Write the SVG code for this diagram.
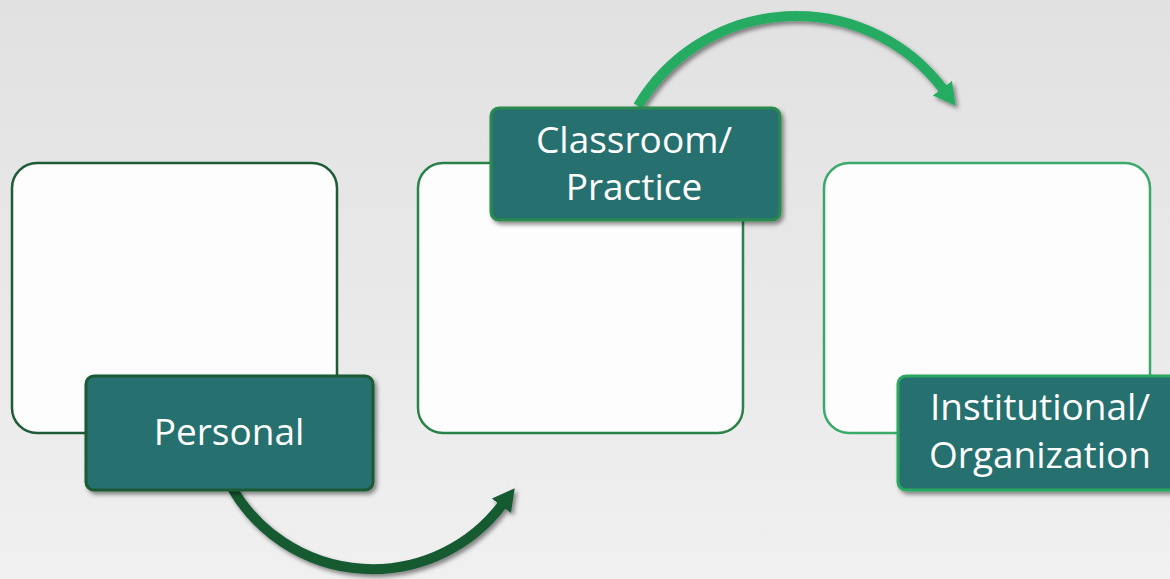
<svg xmlns="http://www.w3.org/2000/svg" width="1170" height="579" viewBox="0 0 1170 579">
<defs>
<linearGradient id="bg" x1="0" y1="0" x2="0" y2="1">
<stop offset="0" stop-color="#e1e1e1"/>
<stop offset="1" stop-color="#f0f0f0"/>
</linearGradient>
<filter id="sh" x="-10%" y="-10%" width="130%" height="140%">
<feDropShadow dx="2.5" dy="3" stdDeviation="2" flood-color="#000" flood-opacity="0.45"/>
</filter>
<marker id="headLight" markerUnits="userSpaceOnUse" markerWidth="30" markerHeight="30" refX="1" refY="12" orient="auto">
<path d="M0,0 L22,12 L0,24 z" fill="#27ab62"/>
</marker>
<marker id="headDark" markerUnits="userSpaceOnUse" markerWidth="30" markerHeight="30" refX="1" refY="12" orient="auto">
<path d="M0,0 L22,12 L0,24 z" fill="#175a32"/>
</marker>
</defs>
<style>
.box{fill:#fdfdfd;stroke-width:2.5}
.lab{fill:#287070;stroke-width:3}
.txt{font-family:"Open Sans","Noto Sans",sans-serif;font-size:37px;fill:#ffffff;text-anchor:middle}
.arr{fill:none;stroke-width:10}
</style>
<rect width="1170" height="579" fill="url(#bg)"/>
<g id="connectors">
<path class="arr" d="M638,106 A184,184 0 0,1 943,89" stroke="#27ab62" marker-end="url(#headLight)" filter="url(#sh)"/>
<path class="arr" d="M232,488 A162.5,162.5 0 0,0 502,505" stroke="#175a32" marker-end="url(#headDark)" filter="url(#sh)"/>
</g>
<g id="node-personal">
<rect class="box" x="12" y="163" width="325" height="270" rx="25" stroke="#1e5c36"/>
<rect class="lab" x="86" y="376" width="287" height="114" rx="8" stroke="#1a5a34" filter="url(#sh)"/>
<text class="txt" x="229" y="445">Personal</text>
</g>
<g id="node-classroom">
<rect class="box" x="418" y="163" width="325" height="270" rx="25" stroke="#2a8248"/>
<rect class="lab" x="491" y="108" width="289" height="112" rx="8" stroke="#2a8a4e" filter="url(#sh)"/>
<text class="txt" x="634" y="153">Classroom/</text>
<text class="txt" x="634" y="200">Practice</text>
</g>
<g id="node-institutional">
<rect class="box" x="824" y="163" width="326" height="270" rx="25" stroke="#3aaa6a"/>
<rect class="lab" x="898" y="376" width="287" height="114" rx="8" stroke="#2aa860" filter="url(#sh)"/>
<text class="txt" x="1040" y="420">Institutional/</text>
<text class="txt" x="1040" y="468">Organization</text>
</g>
</svg>
